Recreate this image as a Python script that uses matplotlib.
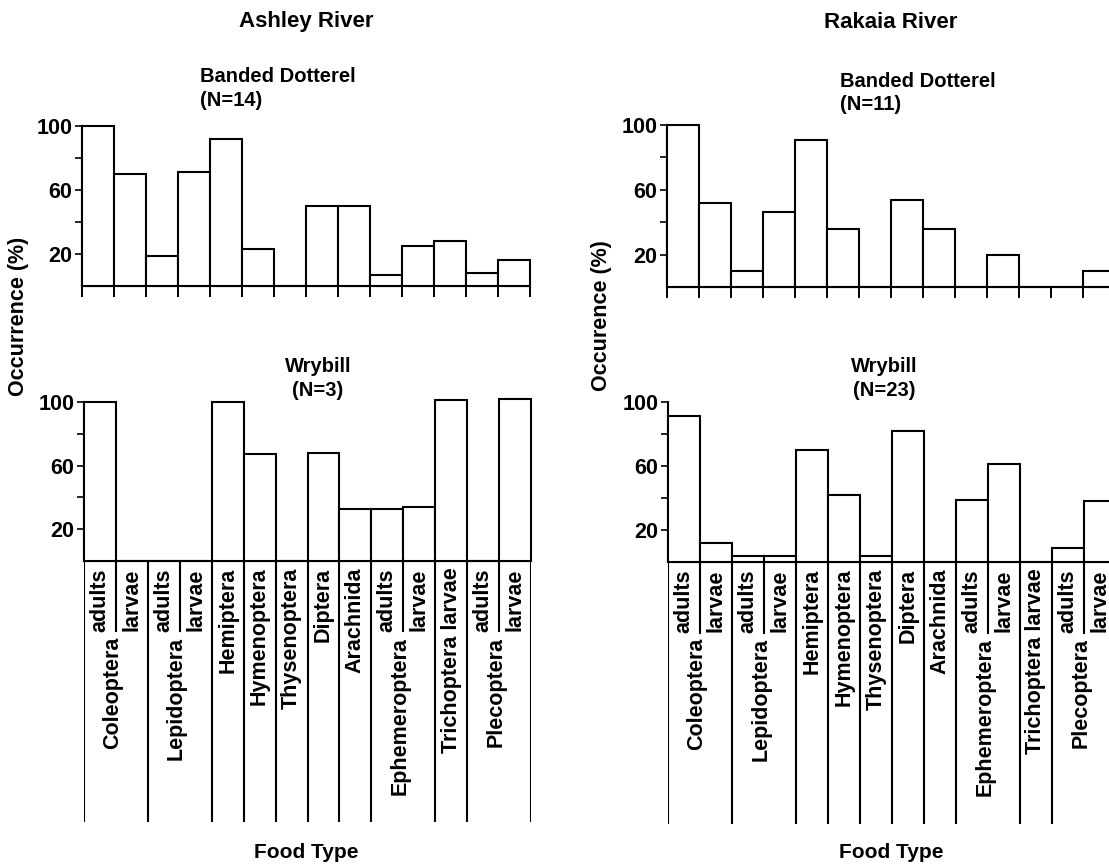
import matplotlib.pyplot as plt
import numpy as np

plt.rcParams['font.family'] = ['Liberation Sans', 'DejaVu Sans']
plt.rcParams['font.weight'] = 'bold'

# food type bins, left to right
food_types = ['Coleoptera adults', 'Coleoptera larvae', 'Lepidoptera adults', 'Lepidoptera larvae',
              'Hemiptera', 'Hymenoptera', 'Thysenoptera', 'Diptera', 'Arachnida',
              'Ephemeroptera adults', 'Ephemeroptera larvae', 'Trichoptera larvae',
              'Plecoptera adults', 'Plecoptera larvae']

# occurrence (%)
ashley_dotterel = [100, 70, 19, 71, 92, 23, 0, 50, 50, 7, 25, 28, 8, 16]
ashley_wrybill = [100, 0, 0, 0, 100, 67, 0, 68, 33, 33, 34, 101, 0, 102]
rakaia_dotterel = [100, 52, 10, 46, 91, 36, 0, 54, 36, 0, 20, 0, 0, 10]
rakaia_wrybill = [91, 12, 4, 4, 70, 42, 4, 82, 0, 39, 61, 0, 9, 38]

# label groups under the bars: (name, sub labels)
groups = [('Coleoptera', ['adults', 'larvae']), ('Lepidoptera', ['adults', 'larvae']),
          ('Hemiptera', []), ('Hymenoptera', []), ('Thysenoptera', []), ('Diptera', []),
          ('Arachnida', []), ('Ephemeroptera', ['adults', 'larvae']),
          ('Trichoptera larvae', []), ('Plecoptera', ['adults', 'larvae'])]

W, H = 1109, 868
fig = plt.figure(figsize=(W / 100, H / 100), dpi=100)
LW = 1.5


def fx(px):
    return px / W


def fy(py):
    return 1 - py / H


def add_axes(left, top, right, bottom):
    return fig.add_axes([fx(left), fy(bottom), fx(right) - fx(left), fy(top) - fy(bottom)])


def bar_panel(ax, values, ticks_below=True):
    n = len(values)
    ax.bar(np.arange(n), values, width=1, align='edge', color='white',
           edgecolor='black', linewidth=LW, clip_on=False, zorder=3)
    ax.set_xlim(0, n)
    ax.set_ylim(0, 100)
    ax.spines['top'].set_visible(False)
    ax.spines['right'].set_visible(False)
    ax.spines['left'].set_linewidth(LW)
    ax.spines['bottom'].set_linewidth(LW)
    ax.set_yticks([20, 40, 60, 80, 100])
    ax.set_yticklabels(['20', '', '60', '', '100'])
    ax.tick_params(axis='y', length=5, width=1.2, labelsize=15.5, pad=2)
    if ticks_below:
        ax.set_xticks(np.arange(n + 1))
        ax.tick_params(axis='x', length=8, width=1.4, labelbottom=False)
    else:
        ax.set_xticks([])
    ax.patch.set_alpha(0)


def label_panel(ax):
    ax.set_xlim(0, len(food_types))
    ax.set_ylim(1, 0)
    ax.axis('off')
    start = 0
    ax.plot([0, 0], [0, 1], color='black', lw=LW)
    for name, subs in groups:
        width = max(len(subs), 1)
        end = start + width
        ax.plot([end, end], [0, 1], color='black', lw=LW)
        if subs:
            ax.plot([start + 1, start + 1], [0, 0.27], color='black', lw=LW)
            for i, s in enumerate(subs):
                ax.text(start + i + 0.5, 0.03, s, rotation=90, ha='center', va='top', fontsize=15.5)
            ax.text(start + 1 - 0.1, 0.29, name, rotation=90, ha='center', va='top', fontsize=15.5)
        else:
            ax.text(start + 0.5, 0.025, name, rotation=90, ha='center', va='top', fontsize=15.5)
        start = end


# Ashley River
ax1 = add_axes(82, 126, 530, 286)
bar_panel(ax1, ashley_dotterel)
ax2 = add_axes(84, 402, 531, 561)
bar_panel(ax2, ashley_wrybill, ticks_below=False)
ax3 = add_axes(84, 561, 531, 822)
label_panel(ax3)

# Rakaia River
ax4 = add_axes(667, 125, 1115, 287)
bar_panel(ax4, rakaia_dotterel)
ax5 = add_axes(668, 402, 1116, 562)
bar_panel(ax5, rakaia_wrybill, ticks_below=False)
ax6 = add_axes(668, 562, 1116, 824)
label_panel(ax6)

# titles and labels
fig.text(fx(306), fy(22), 'Ashley River', ha='center', va='center', fontsize=16)
fig.text(fx(891), fy(22), 'Rakaia River', ha='center', va='center', fontsize=16)

fig.text(fx(200), fy(67), 'Banded Dotterel\n(N=14)', ha='left', va='top', fontsize=14.5,
         linespacing=1.3)
fig.text(fx(840), fy(72), 'Banded Dotterel\n(N=11)', ha='left', va='top', fontsize=14.5,
         linespacing=1.3)
fig.text(fx(318), fy(357), 'Wrybill\n(N=3)', ha='center', va='top', fontsize=14.5,
         linespacing=1.3)
fig.text(fx(884), fy(357), 'Wrybill\n(N=23)', ha='center', va='top', fontsize=14.5,
         linespacing=1.3)

fig.text(fx(19), fy(316), 'Occurrence (%)', rotation=90, ha='center', va='center', fontsize=15.5)
fig.text(fx(601), fy(316), 'Occurence (%)', rotation=90, ha='center', va='center', fontsize=15.5)

fig.text(fx(306), fy(853), 'Food Type', ha='center', va='center', fontsize=15)
fig.text(fx(891), fy(853), 'Food Type', ha='center', va='center', fontsize=15)

fig.savefig('out.png', dpi=100)
